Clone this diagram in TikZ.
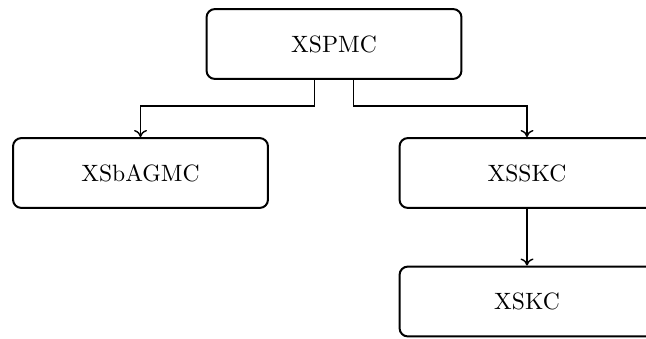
\documentclass[tikz,border=0pt]{standalone}
\usetikzlibrary{arrows.meta}
\begin{document}
\begin{tikzpicture}[x=0.4237pt,y=-0.4237pt,
  box/.style={draw,line width=0.85pt,rounded corners=3.5pt,minimum width=108pt,minimum height=29.6pt,inner sep=0pt,font=\normalsize},
  arr/.style={-{To[length=3pt,width=5.5pt]},line width=0.6pt}]
\useasboundingbox (0,0) rectangle (646,338);
\clip (0,0) rectangle (646,338);
\node[box] (top) at (334,44) {XSPMC};
\node[box] (left) at (140.5,173) {XSbAGMC};
\node[box] (right) at (527,173) {XSSKC};
\node[box] (bot) at (527,301.5) {XSKC};
\draw[arr] ([xshift=-8.3pt]top.south) -- ++(0,26) -| (left.north);
\draw[arr] ([xshift=8.3pt]top.south) -- ++(0,26) -| (right.north);
\draw[arr] (right.south) -- (bot.north);
\end{tikzpicture}
\end{document}
